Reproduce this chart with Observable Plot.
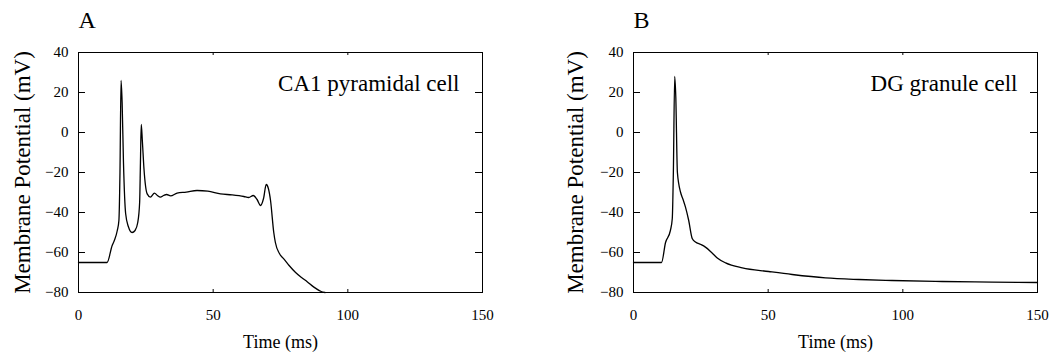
<!DOCTYPE html>
<html>
<head>
<meta charset="utf-8">
<script src="https://cdn.jsdelivr.net/npm/d3@7"></script>
<script src="https://cdn.jsdelivr.net/npm/@observablehq/plot@0.6"></script>
<style>
  html, body { margin: 0; padding: 0; background: #fff; }
  #wrap { display: flex; width: 1049px; height: 352px; }
  #wrap svg { display: block; }
</style>
</head>
<body>
<div id="wrap"></div>
<script>
// Panel A: CA1 pyramidal cell (time ms, membrane potential mV)
const timeA = [0, 10.6, 12.5, 13.3, 14.4, 15.0, 15.4, 15.8, 16.2, 16.7, 17.5, 18.5, 19.9, 21.0, 22.0, 22.7, 23.0, 23.3, 23.7, 24.3, 25.5, 26.7, 28.2, 29.3, 30.4, 31.6, 32.7, 34.2, 36.6, 40, 44, 48, 52.7, 57, 61.4, 63.2, 64.9, 66.3, 67.6, 68.7, 69.7, 70.5, 71.3, 72.5, 73.1, 74.6, 76.3, 78.2, 80.6, 82.8, 84.9, 87.4, 90.1, 91.5];
const vmA   = [-65, -65, -56.5, -54, -49, -44, -20, 26, 15, -15, -40.5, -47, -50, -49, -45, -35, -15, 4, -4, -18, -30.7, -32.3, -30.3, -31.5, -32.3, -31.5, -31, -31.7, -30.3, -29.8, -29, -29.3, -30.7, -31.2, -32, -32.5, -31.5, -33.5, -36.5, -33, -26, -28, -34, -50, -55, -60.5, -63.3, -66.5, -70, -72.5, -74.6, -77.3, -79.5, -80];

// Panel B: DG granule cell
const timeB = [0, 10.4, 11.9, 13.7, 14.4, 14.8, 15.3, 15.7, 16.3, 17.5, 18.4, 19.3, 20.5, 21.8, 23.0, 25.0, 26.7, 29.0, 31.1, 34.2, 40.4, 50.2, 58.9, 71.3, 83.7, 96, 114.6, 133.2, 150];
const vmB   = [-65, -65, -55, -49, -43, -20, 28, 18, -20, -30, -33.5, -37.3, -44, -53, -54.8, -56, -57.3, -60, -62.7, -65.2, -67.7, -69.5, -71, -72.7, -73.5, -74, -74.5, -74.8, -75];

const xTicks = [0, 50, 100, 150];
const yTicks = [40, 20, 0, -20, -40, -60, -80];
const panelLetters = ["A", "B"];
const cellNames = ["CA1 pyramidal cell", "DG granule cell"];
const xLabel = "Time (ms)";
const yLabel = "Membrane Potential (mV)";

const FONT = "'Liberation Serif', 'Times New Roman', Times, serif";

function panel(times, values, letter, name, opts) {
  const data = times.map((t, i) => ({t, v: values[i]}));
  const W = opts.width, H = 352;
  const mL = opts.marginLeft, mR = opts.marginRight, mT = 52, mB = 60;
  const fw = W - mL - mR, fh = H - mT - mB;
  return Plot.plot({
    width: W,
    height: H,
    marginLeft: mL,
    marginRight: mR,
    marginTop: mT,
    marginBottom: mB,
    style: {fontFamily: FONT, fontSize: "15px", color: "black", background: "white", overflow: "visible"},
    x: {domain: [0, 150]},
    y: {domain: [-80, 40]},
    marks: [
      Plot.axisY(yTicks, {tickSize: 0, tickPadding: 10, fontSize: 15, label: null}),
      Plot.axisX(xTicks, {tickSize: 0, tickPadding: 17, fontSize: 15, label: null}),
      // inward ticks on all four sides
      Plot.tickY(yTicks, {y: d => d, insetRight: fw - 7, stroke: "black"}),
      Plot.tickY(yTicks, {y: d => d, insetLeft: fw - 7, stroke: "black"}),
      Plot.tickX(xTicks, {x: d => d, insetTop: fh - 3, stroke: "black"}),
      Plot.tickX(xTicks, {x: d => d, insetBottom: fh - 3, stroke: "black"}),
      Plot.frame({stroke: "black", strokeWidth: 1}),
      Plot.line(data, {x: "t", y: "v", stroke: "black", strokeWidth: 1.3, curve: "monotone-x"}),
      Plot.text([name], {frameAnchor: "top-right", textAnchor: "end", lineAnchor: "bottom", dx: opts.nameDx, dy: 38, fontSize: 23, fill: "black"}),
      Plot.text([letter], {frameAnchor: "top-left", textAnchor: "start", lineAnchor: "bottom", dx: 0, dy: -25, fontSize: 24, fill: "black"}),
      Plot.text([yLabel], {frameAnchor: "left", textAnchor: "middle", lineAnchor: "middle", rotate: -90, dx: opts.yLabelDx, fontSize: 23, fill: "black"}),
      Plot.text([xLabel], {frameAnchor: "bottom", textAnchor: "middle", lineAnchor: "middle", dy: 50, fontSize: 18, fill: "black"})
    ]
  });
}

const wrap = document.getElementById("wrap");
wrap.appendChild(panel(timeA, vmA, panelLetters[0], cellNames[0], {width: 525, marginLeft: 78, marginRight: 43, nameDx: -23, yLabelDx: -56}));
wrap.appendChild(panel(timeB, vmB, panelLetters[1], cellNames[1], {width: 524, marginLeft: 108, marginRight: 12, nameDx: -20, yLabelDx: -58}));
</script>
</body>
</html>
